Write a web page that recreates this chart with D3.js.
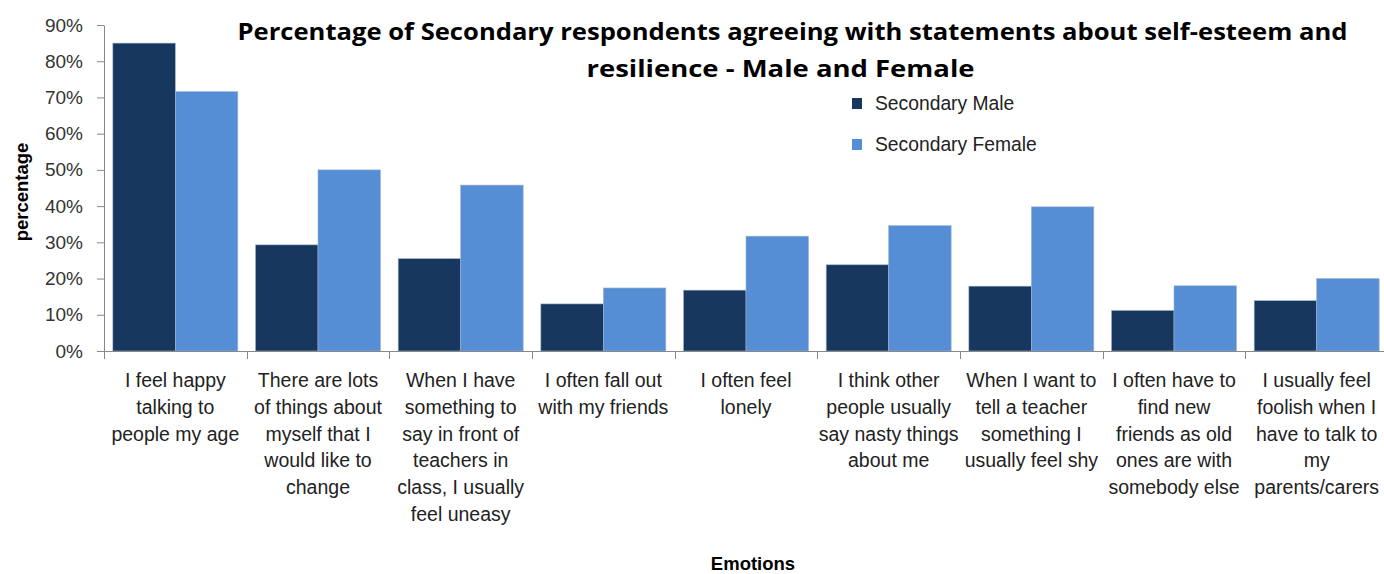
<!DOCTYPE html>
<html><head><meta charset="utf-8">
<script src="https://cdn.jsdelivr.net/npm/d3@7"></script>
<style>body{margin:0;background:#fff}svg{display:block}text{font-family:"Liberation Sans",Arial,sans-serif}</style>
</head><body><svg id="c" width="1384" height="574"></svg>
<script>
const categories = [
  ["I feel happy","talking to","people my age"],
  ["There are lots","of things about","myself that I","would like to","change"],
  ["When I have","something to","say in front of","teachers in","class, I usually","feel uneasy"],
  ["I often fall out","with my friends"],
  ["I often feel","lonely"],
  ["I think other","people usually","say nasty things","about me"],
  ["When I want to","tell a teacher","something I","usually feel shy"],
  ["I often have to","find new","friends as old","ones are with","somebody else"],
  ["I usually feel","foolish when I","have to talk to","my","parents/carers"]
];
const seriesNames = ["Secondary Male","Secondary Female"];
const maleValues = [85.0, 29.3, 25.5, 13.0, 16.8, 23.8, 17.9, 11.2, 13.9];
const femaleValues = [71.6, 50.0, 45.8, 17.4, 31.7, 34.6, 39.8, 18.0, 20.0];
const yTicks = [0,10,20,30,40,50,60,70,80,90];
const colors = ["#17375E","#558ED5"];

const svg = d3.select("#c");
const L = 104, R = 1388, T = 25, B = 351;
const idx = d3.range(categories.length);
const x = d3.scaleBand().domain(idx).range([L,R]).paddingInner(0.124).paddingOuter(0.062);
const xs = d3.scaleBand().domain([0,1]).range([0,x.bandwidth()]);
const y = d3.scaleLinear().domain([0,90]).range([B,T]);

// bars
const series = [maleValues, femaleValues];
series.forEach((vals,s)=>{
  svg.append("g").selectAll("rect").data(vals).join("rect")
    .attr("x",(d,i)=>x(i)+xs(s))
    .attr("y",d=>y(d))
    .attr("width",xs.bandwidth())
    .attr("height",d=>B-y(d))
    .attr("fill",colors[s])
    .attr("stroke","#9fb3cc").attr("stroke-width",0.6);
});

// y axis
const ya = svg.append("g").attr("transform",`translate(${L},0)`)
  .call(d3.axisLeft(y).tickValues(yTicks).tickFormat(d=>d+"%").tickSize(7).tickSizeOuter(0));
ya.select(".domain").attr("stroke","#888");
ya.selectAll(".tick line").attr("stroke","#888");
ya.selectAll(".tick text").attr("font-size",19).attr("fill","#333").attr("x",-21).attr("font-family","Liberation Sans, Arial, sans-serif");

// x axis
const xg = svg.append("g");
xg.append("line").attr("x1",L).attr("x2",R).attr("y1",B+0.5).attr("y2",B+0.5).attr("stroke","#888");
const edges = idx.map(i=>x(i)-x.step()*x.paddingInner()/2).concat([R]);
xg.selectAll("line.t").data(edges).join("line").attr("class","t")
  .attr("x1",d=>Math.round(d)+0.5).attr("x2",d=>Math.round(d)+0.5).attr("y1",B).attr("y2",B+8).attr("stroke","#888");
const lab = xg.selectAll("text").data(categories).join("text")
  .attr("text-anchor","middle").attr("font-size",19.5).attr("fill","#222")
  .attr("transform",(d,i)=>`translate(${x(i)+x.bandwidth()/2},${B+36})`);
lab.selectAll("tspan").data(d=>d).join("tspan").attr("x",0).attr("dy",(d,i)=>i?26.8:0).text(d=>d);

// titles
const tf = "'Open Sans', 'Liberation Sans', sans-serif";
svg.append("text").attr("x",792.5).attr("y",40).attr("text-anchor","middle").attr("font-weight","bold").attr("font-size",22.5)
  .style("font-family",tf).attr("textLength",1110).attr("lengthAdjust","spacingAndGlyphs")
  .text("Percentage of Secondary respondents agreeing with statements about self-esteem and");
svg.append("text").attr("x",780.5).attr("y",77).attr("text-anchor","middle").attr("font-weight","bold").attr("font-size",22.5)
  .style("font-family",tf).attr("textLength",388).attr("lengthAdjust","spacingAndGlyphs")
  .text("resilience - Male and Female");
svg.append("text").attr("transform","translate(28,192) rotate(-90)").attr("text-anchor","middle")
  .attr("font-weight","bold").attr("font-size",18.5).text("percentage");
svg.append("text").attr("x",753).attr("y",570).attr("text-anchor","middle")
  .attr("font-weight","bold").attr("font-size",18.5).text("Emotions");

// legend
const lg = svg.append("g").selectAll("g").data(seriesNames).join("g")
  .attr("transform",(d,i)=>`translate(852,${98+i*41})`);
lg.append("rect").attr("width",10).attr("height",11).attr("fill",(d,i)=>colors[i]);
lg.append("text").attr("x",23).attr("y",12).attr("font-size",19.3).attr("fill","#222").text(d=>d);
</script></body></html>
